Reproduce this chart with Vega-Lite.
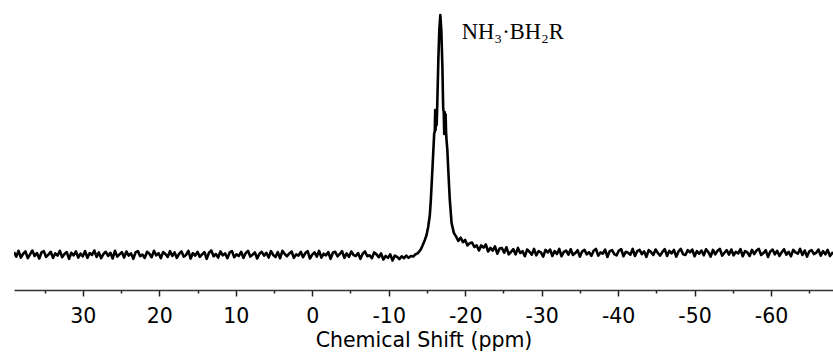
{
  "$schema": "https://vega.github.io/schema/vega-lite/v6.json",
  "width": 819,
  "height": 290,
  "autosize": {"type": "none"},
  "padding": {"left": 14, "top": 0, "right": 0, "bottom": 62},
  "background": "white",
  "config": {"view": {"stroke": null}},
  "layer": [
    {
      "data": {
        "values": "ppm,amp\n39.0,0.9\n38.7,-0.5\n38.4,1.3\n38.1,-0.8\n37.8,0.4\n37.5,1.1\n37.2,-1.0\n36.9,0.2\n36.6,1.4\n36.3,-0.3\n36.0,0.6\n35.7,-1.1\n35.4,0.8\n35.1,1.2\n34.8,-0.6\n34.5,0.1\n34.2,1.0\n33.9,-0.9\n33.6,0.5\n33.3,-0.2\n33.0,1.3\n32.7,-0.7\n32.4,0.3\n32.1,0.9\n31.8,-1.2\n31.5,0.7\n31.2,-0.1\n30.9,1.1\n30.6,-0.8\n30.3,0.4\n30.0,-0.4\n29.7,1.2\n29.4,-0.9\n29.1,0.6\n28.8,0.0\n28.5,1.4\n28.2,-0.6\n27.9,0.8\n27.6,-1.0\n27.3,0.3\n27.0,1.0\n26.7,-0.3\n26.4,0.7\n26.1,-1.1\n25.8,1.3\n25.5,-0.5\n25.2,0.2\n24.9,0.9\n24.6,-0.8\n24.3,1.1\n24.0,-0.2\n23.7,0.5\n23.4,-1.2\n23.1,0.8\n22.8,1.2\n22.5,-0.4\n22.2,0.1\n21.9,-0.9\n21.6,1.0\n21.3,0.4\n21.0,-0.7\n20.7,1.3\n20.4,-0.1\n20.1,0.6\n19.8,-1.0\n19.5,0.9\n19.2,0.3\n18.9,-0.6\n18.6,1.2\n18.3,-0.3\n18.0,0.8\n17.7,-0.9\n17.4,0.4\n17.1,1.1\n16.8,-0.5\n16.5,0.0\n16.2,1.3\n15.9,-1.1\n15.6,0.6\n15.3,-0.2\n15.0,1.0\n14.7,-0.6\n14.4,0.2\n14.1,0.9\n13.8,-1.2\n13.5,0.7\n13.2,1.4\n12.9,-0.4\n12.6,0.3\n12.3,-0.8\n12.0,1.1\n11.7,-0.1\n11.4,0.5\n11.1,-1.0\n10.8,0.8\n10.5,1.2\n10.2,-0.7\n9.9,0.2\n9.6,-0.3\n9.3,1.0\n9.0,-0.9\n8.7,0.6\n8.4,1.3\n8.1,-0.5\n7.8,0.1\n7.5,0.8\n7.2,-1.1\n6.9,0.4\n6.6,1.0\n6.3,-0.2\n6.0,0.7\n5.7,-0.8\n5.4,1.2\n5.1,0.0\n4.8,-0.6\n4.5,0.9\n4.2,-1.0\n3.9,1.3\n3.6,0.3\n3.3,-0.4\n3.0,0.5\n2.7,1.1\n2.4,-0.9\n2.1,0.2\n1.8,-0.2\n1.5,1.0\n1.2,-0.7\n0.9,0.6\n0.6,1.2\n0.3,-1.1\n0.0,0.1\n-0.3,0.8\n-0.6,-0.5\n-0.9,1.3\n-1.2,-0.8\n-1.5,0.4\n-1.8,-0.1\n-2.1,0.9\n-2.4,-1.2\n-2.7,0.7\n-3.0,1.0\n-3.3,-0.4\n-3.6,0.3\n-3.9,1.2\n-4.2,-0.9\n-4.5,0.5\n-4.8,-0.6\n-5.1,1.1\n-5.4,0.0\n-5.7,-0.3\n-6.0,0.6\n-6.3,-1.2\n-6.6,0.4\n-6.9,1.1\n-7.2,-0.4\n-7.5,-0.1\n-7.8,-1.0\n-8.1,0.8\n-8.4,0.2\n-8.7,-0.7\n-9.0,0.5\n-9.3,-1.4\n-9.6,-0.3\n-9.9,-0.9\n-10.2,0.2\n-10.5,-1.7\n-10.8,-0.2\n-11.1,-0.6\n-11.4,-1.3\n-11.7,-0.4\n-12.0,-1.0\n-12.3,-0.2\n-12.6,-0.9\n-12.9,-0.3\n-13.2,-0.5\n-13.45,0.1\n-13.81,0.6\n-14.16,1.6\n-14.40,2.8\n-14.73,4.7\n-14.95,6.25\n-15.16,8.75\n-15.38,12.5\n-15.51,17.2\n-15.73,27.5\n-15.84,32.8\n-15.95,38.1\n-16.02,38.4\n-16.08,45.3\n-16.14,39.1\n-16.20,44.7\n-16.27,40.6\n-16.33,45.0\n-16.49,60.9\n-16.62,70.5\n-16.75,75\n-16.88,70.3\n-17.02,59\n-17.12,46\n-17.20,44.4\n-17.26,37.8\n-17.32,44.7\n-17.38,39.1\n-17.44,44.0\n-17.50,38.5\n-17.56,36\n-17.67,32.8\n-17.77,27.5\n-17.99,17.2\n-18.22,10\n-18.52,6.9\n-18.8,5.8\n-19.1,4.4\n-19.4,5.4\n-19.7,4.0\n-20.0,4.7\n-20.3,3.0\n-20.6,3.7\n-20.9,3.9\n-21.2,2.5\n-21.5,3.0\n-21.8,1.4\n-22.1,3.0\n-22.4,2.3\n-22.7,3.3\n-23.0,1.1\n-23.3,2.2\n-23.6,1.4\n-23.9,2.7\n-24.2,0.4\n-24.5,2.0\n-24.8,2.2\n-25.1,0.7\n-25.4,2.4\n-25.7,0.2\n-26.0,1.0\n-26.3,1.8\n-26.6,0.2\n-26.9,2.2\n-27.2,0.6\n-27.5,1.2\n-27.8,-0.4\n-28.1,1.7\n-28.4,1.0\n-28.7,0.1\n-29.0,1.9\n-29.3,-0.1\n-29.6,1.2\n-29.9,0.8\n-30.2,-0.5\n-30.5,1.6\n-30.8,0.8\n-31.1,1.7\n-31.4,-0.3\n-31.7,1.2\n-32.0,0.3\n-32.3,1.9\n-32.6,-0.4\n-32.9,1.0\n-33.2,1.4\n-33.5,0.1\n-33.8,1.8\n-34.1,0.0\n-34.4,0.6\n-34.7,1.5\n-35.0,-0.5\n-35.3,1.1\n-35.6,1.6\n-35.9,0.2\n-36.2,0.9\n-36.5,-0.3\n-36.8,1.3\n-37.1,1.9\n-37.4,-0.2\n-37.7,0.8\n-38.0,0.4\n-38.3,1.7\n-38.6,-0.6\n-38.9,1.2\n-39.2,1.5\n-39.5,0.3\n-39.8,-0.1\n-40.1,1.4\n-40.4,1.8\n-40.7,-0.4\n-41.0,1.0\n-41.3,0.7\n-41.6,0.1\n-41.9,1.9\n-42.2,-0.3\n-42.5,1.2\n-42.8,1.6\n-43.1,0.3\n-43.4,1.1\n-43.7,-0.6\n-44.0,1.5\n-44.3,0.9\n-44.6,0.0\n-44.9,1.7\n-45.2,0.6\n-45.5,-0.2\n-45.8,1.0\n-46.1,1.8\n-46.4,-0.3\n-46.7,1.3\n-47.0,0.5\n-47.3,1.6\n-47.6,-0.5\n-47.9,1.1\n-48.2,1.9\n-48.5,0.2\n-48.8,0.0\n-49.1,1.5\n-49.4,0.8\n-49.7,1.7\n-50.0,-0.4\n-50.3,1.2\n-50.6,0.4\n-50.9,1.4\n-51.2,-0.1\n-51.5,1.8\n-51.8,0.9\n-52.1,-0.5\n-52.4,1.6\n-52.7,0.2\n-53.0,1.3\n-53.3,1.9\n-53.6,-0.2\n-53.9,0.7\n-54.2,1.5\n-54.5,0.1\n-54.8,1.7\n-55.1,-0.1\n-55.4,1.0\n-55.7,0.5\n-56.0,1.8\n-56.3,-0.4\n-56.6,1.2\n-56.9,0.8\n-57.2,-0.3\n-57.5,1.6\n-57.8,0.3\n-58.1,1.4\n-58.4,1.9\n-58.7,0.0\n-59.0,0.6\n-59.3,1.5\n-59.6,-0.6\n-59.9,1.1\n-60.2,1.7\n-60.5,0.2\n-60.8,1.3\n-61.1,-0.3\n-61.4,0.9\n-61.7,1.8\n-62.0,0.1\n-62.3,1.0\n-62.6,-0.4\n-62.9,1.6\n-63.2,0.8\n-63.5,0.4\n-63.8,1.9\n-64.1,0.0\n-64.4,1.4\n-64.7,-0.5\n-65.0,1.1\n-65.3,1.5\n-65.6,0.3\n-65.9,0.7\n-66.2,1.7\n-66.5,-0.2\n-66.8,1.2\n-67.1,0.2\n-67.4,1.6\n-67.7,-0.3\n-68.1,0.9",
        "format": {"type": "csv", "parse": {"ppm": "number", "amp": "number"}}
      },
      "mark": {"type": "line", "color": "black", "strokeWidth": 2.6, "clip": true, "strokeJoin": "round"},
      "encoding": {
        "x": {
          "field": "ppm",
          "type": "quantitative",
          "scale": {"domain": [39, -68.1], "nice": false, "zero": false},
          "axis": {
            "values": [35, 30, 25, 20, 15, 10, 5, 0, -5, -10, -15, -20, -25, -30, -35, -40, -45, -50, -55, -60, -65],
            "labelExpr": "datum.value % 10 === 0 ? '' + datum.value : ''",
            "tickSize": {"condition": {"test": "datum.value % 10 === 0", "value": 6}, "value": 3},
            "tickWidth": 1.5,
            "tickColor": "#222",
            "domainColor": "#333",
            "domainWidth": 1.5,
            "grid": false,
            "labelFont": "DejaVu Sans",
            "labelFontSize": 20.5,
            "labelColor": "black",
            "labelPadding": 10,
            "labelFlush": false,
            "labelOverlap": false,
            "title": "Chemical Shift (ppm)",
            "titleFont": "DejaVu Sans",
            "titleFontSize": 20.5,
            "titleFontWeight": "normal",
            "titleColor": "black",
            "titlePadding": 4
          }
        },
        "y": {
          "field": "amp",
          "type": "quantitative",
          "scale": {"domain": [-10.94, 79.69], "nice": false, "zero": false},
          "axis": null
        }
      }
    },
    {
      "data": {"values": [{"ppm": -19.56, "amp": 67.5, "label": "NH₃·BH₂R"}]},
      "mark": {"type": "text", "font": "Liberation Serif", "fontSize": 22.5, "align": "left", "baseline": "alphabetic", "color": "black"},
      "encoding": {
        "x": {"field": "ppm", "type": "quantitative"},
        "y": {"field": "amp", "type": "quantitative"},
        "text": {"field": "label"}
      }
    }
  ]
}
